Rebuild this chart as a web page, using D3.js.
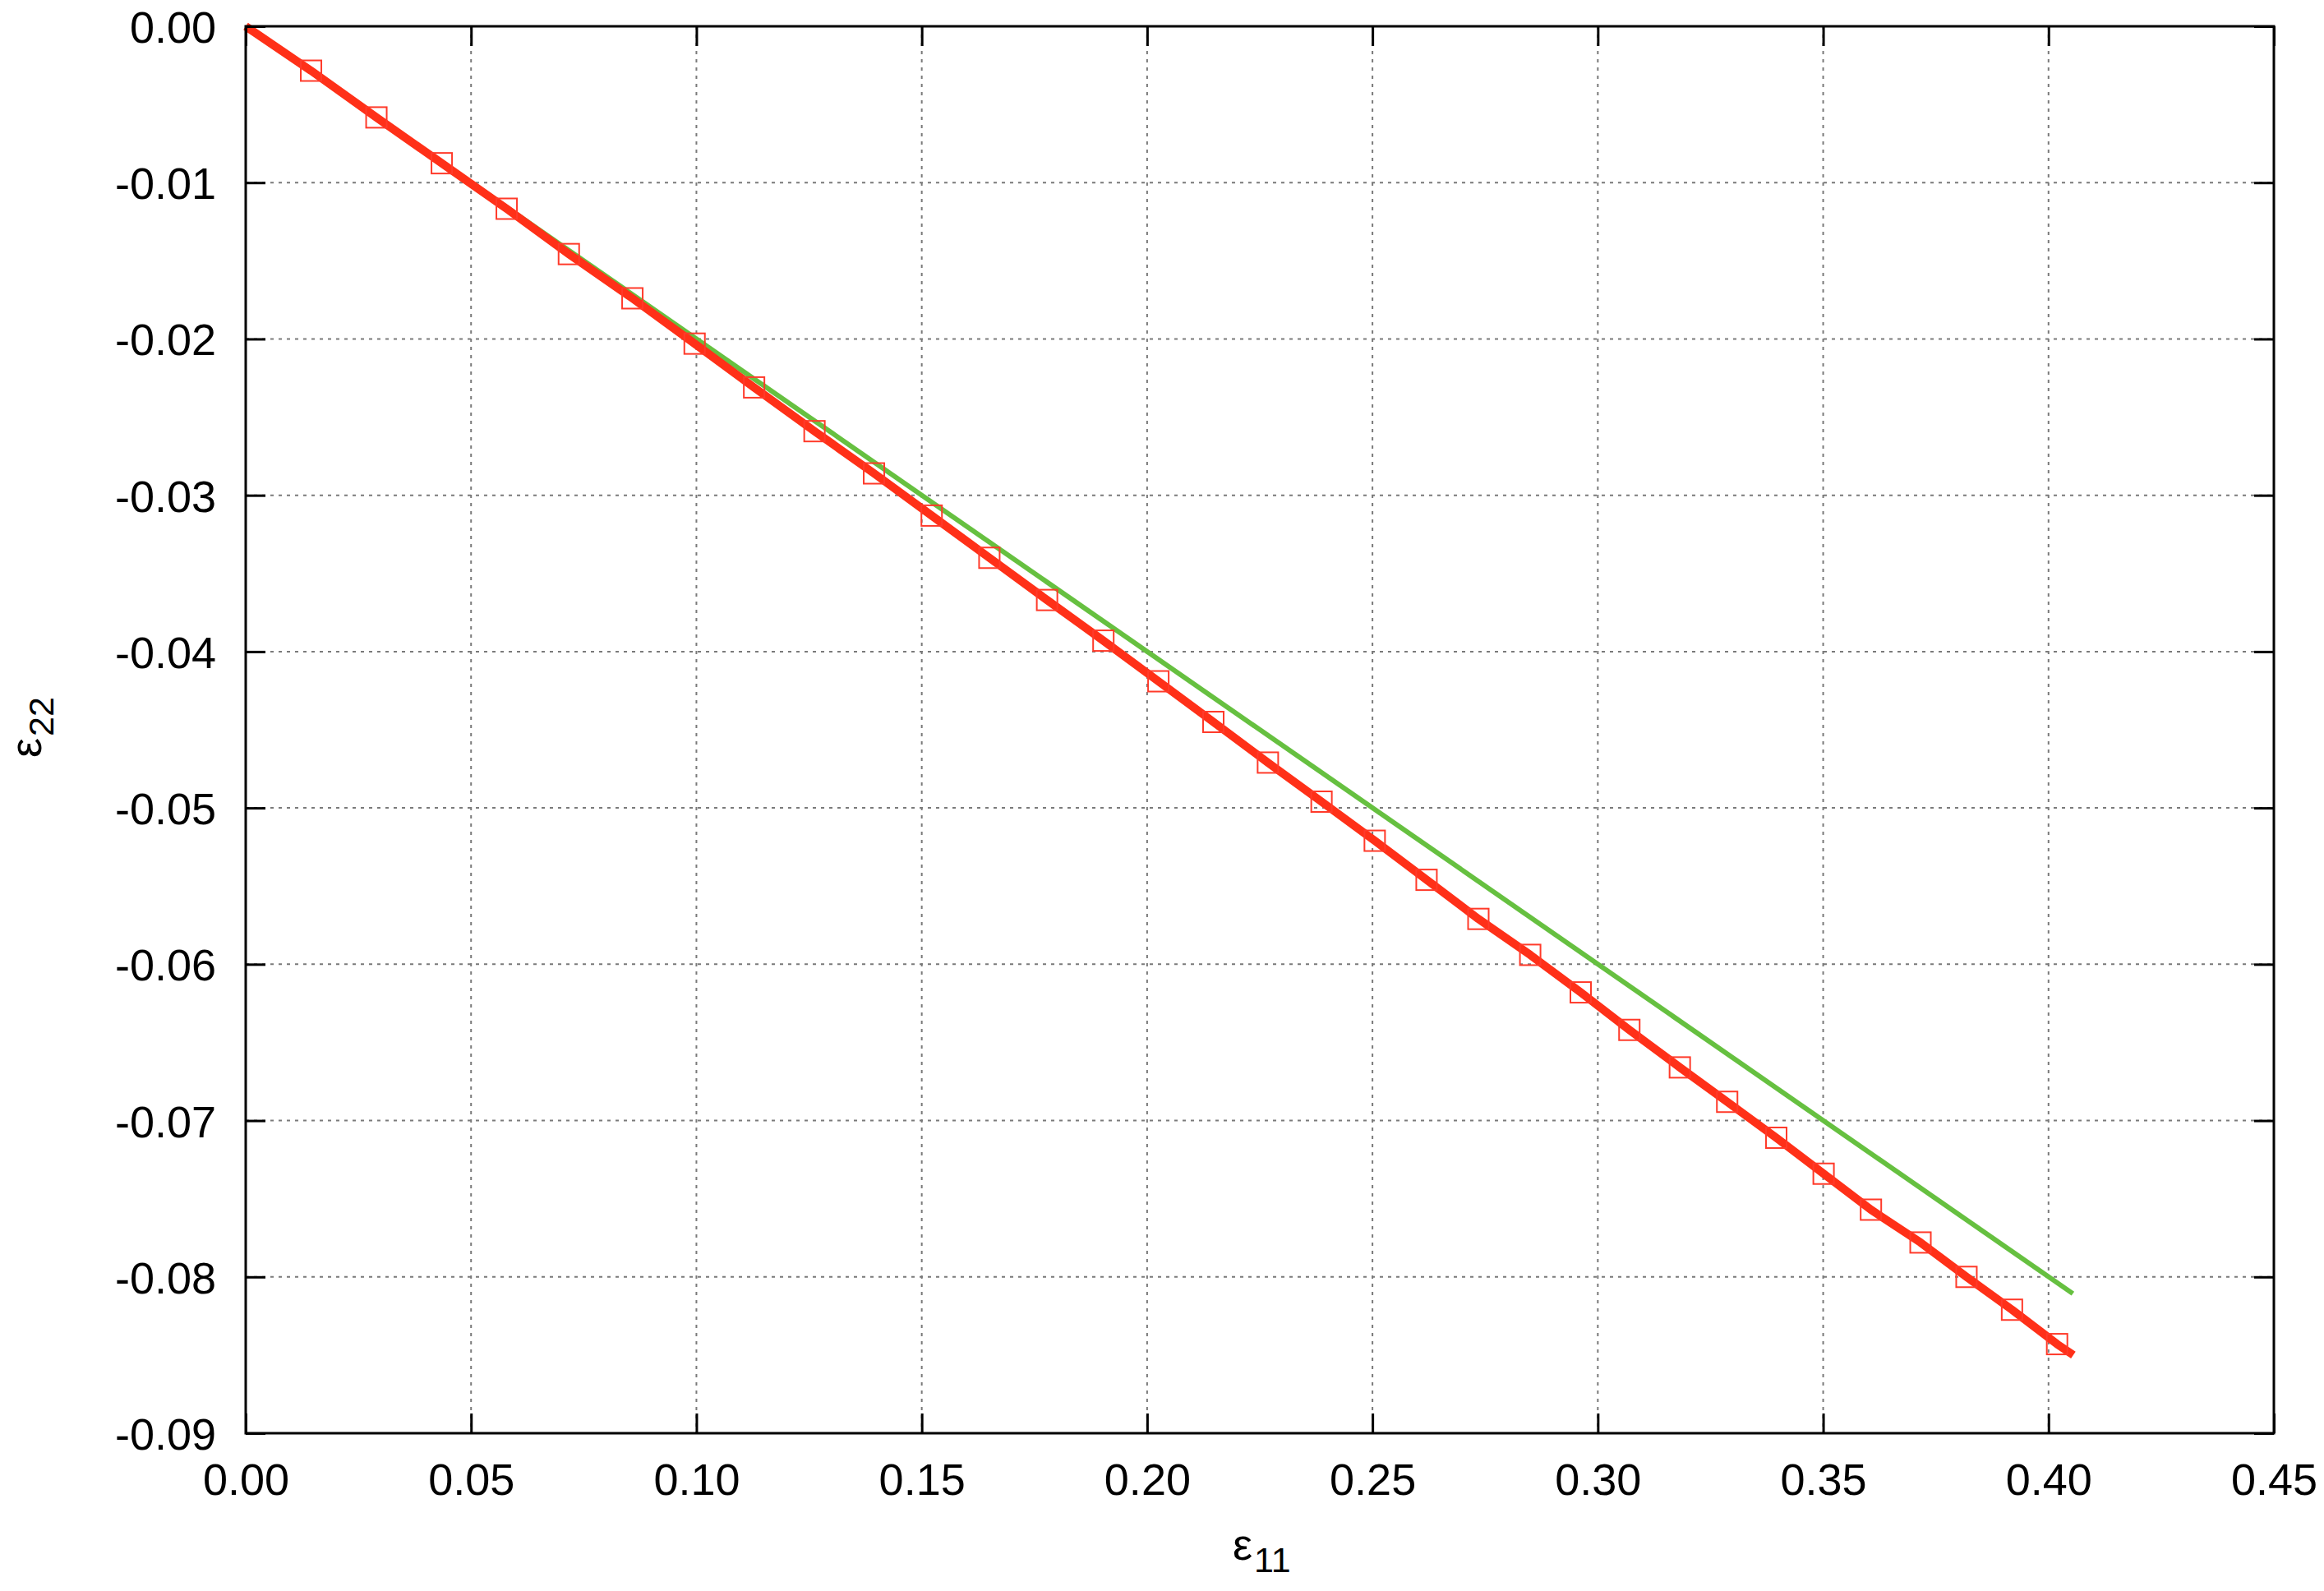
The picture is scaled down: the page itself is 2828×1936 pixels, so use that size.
<!DOCTYPE html>
<html>
<head>
<meta charset="utf-8">
<script src="https://cdn.jsdelivr.net/npm/d3@7/dist/d3.min.js"></script>
<style>
  html, body { margin: 0; padding: 0; background: #fff; }
  svg { display: block; }
  text { font-family: "Liberation Sans", Arial, Helvetica, sans-serif; fill: #000; }
</style>
</head>
<body>
<script>
// ---- data ----
const xTicks = [0, 0.05, 0.10, 0.15, 0.20, 0.25, 0.30, 0.35, 0.40, 0.45];
const xTickLabels = ["0.00", "0.05", "0.10", "0.15", "0.20", "0.25", "0.30", "0.35", "0.40", "0.45"];
const yTicks = [0, -0.01, -0.02, -0.03, -0.04, -0.05, -0.06, -0.07, -0.08, -0.09];
const yTickLabels = ["0.00", "-0.01", "-0.02", "-0.03", "-0.04", "-0.05", "-0.06", "-0.07", "-0.08", "-0.09"];

// measured points (red squares)
const markerX = [0.0145, 0.0290, 0.0435, 0.0579, 0.0717, 0.0858, 0.0996, 0.1128, 0.1262, 0.1394,
                 0.1522, 0.1650, 0.1778, 0.1903, 0.2025, 0.2147, 0.2268, 0.2387, 0.2505, 0.2620,
                 0.2735, 0.2850, 0.2962, 0.3070, 0.3182, 0.3287, 0.3396, 0.3501, 0.3606, 0.3716,
                 0.3818, 0.3919, 0.4019];
const markerY = [-0.00284, -0.00583, -0.00876, -0.01167, -0.01457, -0.0174, -0.0203, -0.0231, -0.0259, -0.0286,
                 -0.0313, -0.0340, -0.0367, -0.0393, -0.0419, -0.0445, -0.0471, -0.0496, -0.0521, -0.0546,
                 -0.0571, -0.0594, -0.0618, -0.0642, -0.0666, -0.0688, -0.0711, -0.0734, -0.0757, -0.0778,
                 -0.0800, -0.0821, -0.0843];

// red curve
const redX = [0, 0.0145, 0.0290, 0.0435, 0.0579, 0.0717, 0.0858, 0.0996, 0.1128, 0.1262, 0.1394,
              0.1522, 0.1650, 0.1778, 0.1903, 0.2025, 0.2147, 0.2268, 0.2387, 0.2505, 0.2620,
              0.2735, 0.2850, 0.2962, 0.3070, 0.3182, 0.3287, 0.3396, 0.3501, 0.3606, 0.3716,
              0.3818, 0.3919, 0.4019, 0.4055];
const redY = [0, -0.00284, -0.00583, -0.00876, -0.01167, -0.01457, -0.0174, -0.0203, -0.0231, -0.0259, -0.0286,
              -0.0313, -0.0340, -0.0367, -0.0393, -0.0419, -0.0445, -0.0471, -0.0496, -0.0521, -0.0546,
              -0.0571, -0.0594, -0.0618, -0.0642, -0.0666, -0.0688, -0.0711, -0.0734, -0.0757, -0.0778,
              -0.0800, -0.0821, -0.0843, -0.0850];

// green line
const greenX = [0, 0.4054];
const greenY = [0, -0.08107];

// ---- layout ----
const W = 2828, H = 1936;
const margin = { left: 299, top: 32, right: W - 2767, bottom: H - 1744 };
const iw = W - margin.left - margin.right;
const ih = H - margin.top - margin.bottom;

const svg = d3.select("body").append("svg")
  .attr("width", W).attr("height", H)
  .attr("viewBox", `0 0 ${W} ${H}`);
svg.append("rect").attr("width", W).attr("height", H).attr("fill", "#fff");

const g = svg.append("g").attr("transform", `translate(${margin.left},${margin.top})`);

const x = d3.scaleLinear().domain([0, 0.45]).range([0, iw]);
const y = d3.scaleLinear().domain([0, -0.09]).range([0, ih]);

// grid
const gridStyle = sel => sel.attr("stroke", "#7a7a7a").attr("stroke-width", 2)
  .attr("stroke-dasharray", "4,6").attr("fill", "none");
g.append("g").selectAll("line").data(xTicks.slice(1, -1)).join("line")
  .attr("x1", d => x(d)).attr("x2", d => x(d)).attr("y1", 0).attr("y2", ih)
  .call(gridStyle);
g.append("g").selectAll("line").data(yTicks.slice(1, -1)).join("line")
  .attr("y1", d => y(d)).attr("y2", d => y(d)).attr("x1", 0).attr("x2", iw)
  .call(gridStyle);

// green line
const greenData = greenX.map((v, i) => [v, greenY[i]]);
g.append("path").datum(greenData)
  .attr("d", d3.line().x(d => x(d[0])).y(d => y(d[1])))
  .attr("fill", "none").attr("stroke", "#66c040").attr("stroke-width", 6);

// red line
const redData = redX.map((v, i) => [v, redY[i]]);
g.append("path").datum(redData)
  .attr("d", d3.line().x(d => x(d[0])).y(d => y(d[1])))
  .attr("fill", "none").attr("stroke", "#ff3018").attr("stroke-width", 10)
  .attr("stroke-linejoin", "round");

// squares
const sq = 25;
const markers = markerX.map((v, i) => [v, markerY[i]]);
g.append("g").selectAll("rect").data(markers).join("rect")
  .attr("x", d => x(d[0]) - sq / 2).attr("y", d => y(d[1]) - sq / 2)
  .attr("width", sq).attr("height", sq)
  .attr("fill", "none").attr("stroke", "#ff3a2a").attr("stroke-width", 2);

// axes
const tickLen = 24;
const fontSize = 54;
const xAxis = d3.axisBottom(x).tickValues(xTicks)
  .tickFormat((d, i) => xTickLabels[i]).tickSize(-tickLen).tickPadding(37);
const yAxis = d3.axisLeft(y).tickValues(yTicks)
  .tickFormat((d, i) => yTickLabels[i]).tickSize(-tickLen).tickPadding(36);
const xAxisTop = d3.axisTop(x).tickValues(xTicks).tickFormat("").tickSize(-tickLen);
const yAxisRight = d3.axisRight(y).tickValues(yTicks).tickFormat("").tickSize(-tickLen);

function styleAxis(sel) {
  sel.select(".domain").remove();
  sel.selectAll(".tick line").attr("stroke", "#000").attr("stroke-width", 3);
  sel.selectAll(".tick text").attr("font-size", fontSize)
    .attr("font-family", "'Liberation Sans', Arial, Helvetica, sans-serif").attr("fill", "#000");
}
g.append("g").attr("transform", `translate(0,${ih})`).call(xAxis).call(styleAxis);
g.append("g").call(yAxis).call(styleAxis)
  .selectAll(".tick text").attr("dy", "0.36em");
g.append("g").call(xAxisTop).call(styleAxis);
g.append("g").attr("transform", `translate(${iw},0)`).call(yAxisRight).call(styleAxis);

// border
g.append("rect").attr("x", 0).attr("y", 0).attr("width", iw).attr("height", ih)
  .attr("fill", "none").attr("stroke", "#000").attr("stroke-width", 3);

// axis labels
const xl = svg.append("text").attr("x", 1500).attr("y", 1898)
  .attr("font-size", fontSize);
xl.append("tspan").text("ε");
xl.append("tspan").attr("font-size", 43).attr("dy", 15).attr("dx", 2).text("11");

const yl = svg.append("text")
  .attr("transform", "translate(50,922) rotate(-90)")
  .attr("font-size", fontSize);
yl.append("tspan").text("ε");
yl.append("tspan").attr("font-size", 43).attr("dy", 15).attr("dx", 2).text("22");
</script>
</body>
</html>
